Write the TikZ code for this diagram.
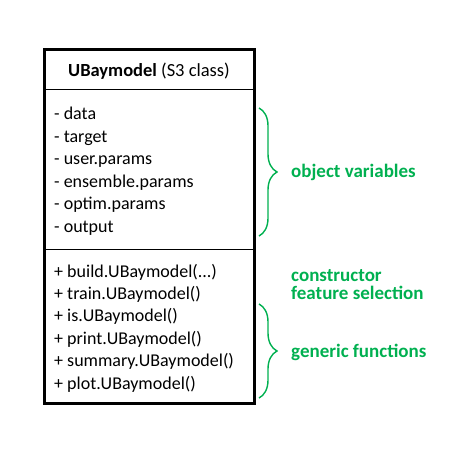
\documentclass[tikz,border=0pt]{standalone}
\usepackage{fontspec}
\setmainfont{Carlito}
\usetikzlibrary{decorations.pathreplacing}
\definecolor{ubgreen}{RGB}{0,176,80}
\newcommand\argdots{...}

\begin{document}
\begin{tikzpicture}[
            x=1pt, y=-1pt,
            title node/.style={font=\fontsize{18.5}{20}\selectfont, inner sep=0pt},
            item node/.style={font=\fontsize{18}{20}\selectfont, anchor=west, inner sep=0pt, text height=12pt, text depth=4pt},
            note node/.style={font=\fontsize{19}{18}\selectfont\bfseries, text=ubgreen, anchor=west, inner sep=0pt, align=left},
            brace line/.style={ubgreen, line width=1.4pt, decorate, decoration={brace, amplitude=18pt}},
            ]
            \def\dy{22.4}
            \useasboundingbox (0,0) rectangle (454,454);

            % class box
            \coordinate (nw) at (44,50);
            \coordinate (se) at (254,403);
            \coordinate (h1) at (44,90);
            \coordinate (h2) at (254,90);
            \coordinate (m1) at (44,249);
            \coordinate (m2) at (254,249);
            \draw[line width=1pt] (h1) -- (h2);
            \draw[line width=1pt] (m1) -- (m2);
            \draw[line width=3pt] (nw) rectangle (se);

            \node[title node] (title) at (149,71) {\textbf{UBaymodel} (S3 class)};

            \foreach \t [count=\i] in {data, target, user.params, ensemble.params, optim.params, output}
                \node[item node] (a\i) at (54, 116+\dy*\i-\dy) {- \t};
            \foreach \t [count=\i] in {build.UBaymodel(\argdots), train.UBaymodel(), is.UBaymodel(), print.UBaymodel(), summary.UBaymodel(), plot.UBaymodel()}
                \node[item node] (f\i) at (54, 273+\dy*\i-\dy) {+ \t};

            % braces
            \coordinate (b1) at (259,108);
            \coordinate (b2) at (259,236);
            \coordinate (b3) at (259,304);
            \coordinate (b4) at (259,398);
            \draw[brace line] (b1) -- (b2);
            \draw[brace line] (b3) -- (b4);

            \node[note node] (objvar) at (291,172) {object variables};
            \node[note node] (constr) at (291,285) {constructor\\feature selection};
            \node[note node] (generic) at (291,352) {generic functions};
        \end{tikzpicture}
\end{document}
